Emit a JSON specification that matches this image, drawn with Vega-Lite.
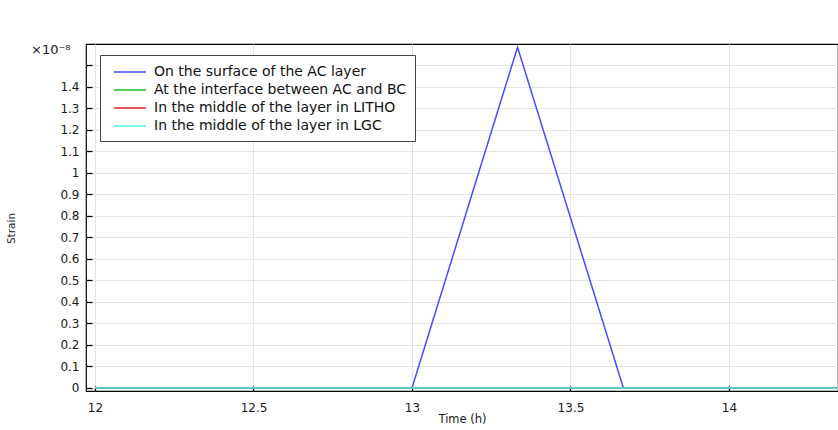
{
  "$schema": "https://vega.github.io/schema/vega-lite/v6.json",
  "width": 752,
  "height": 347,
  "autosize": {"type": "none"},
  "padding": {"left": 86, "top": 44, "right": 0, "bottom": 39},
  "background": "white",
  "title": {"text": "×10⁻⁸", "anchor": "start", "frame": "group", "dx": -55, "dy": 23, "offset": 0, "baseline": "alphabetic", "font": "DejaVu Sans", "fontSize": 13, "fontWeight": "normal", "color": "#222"},
  "config": {
    "view": {"stroke": "#000", "strokeWidth": 1.2},
    "font": "DejaVu Sans",
    "axis": {"domain": false, "gridColor": "#e4e4e4", "gridWidth": 1, "tickColor": "#000", "tickWidth": 1.3, "labelFont": "DejaVu Sans", "labelFontSize": 12, "labelColor": "#1a1a1a", "titleFont": "DejaVu Sans", "titleFontSize": 11.5, "titleFontWeight": "normal", "titleColor": "#1a1a1a"}
  },
  "data": {"values": [
    {"series": "On the surface of the AC layer", "t": 12, "strain": 0},
    {"series": "On the surface of the AC layer", "t": 13, "strain": 0},
    {"series": "On the surface of the AC layer", "t": 13.333, "strain": 1.585},
    {"series": "On the surface of the AC layer", "t": 13.667, "strain": 0},
    {"series": "On the surface of the AC layer", "t": 14.34, "strain": 0},
    {"series": "At the interface between AC and BC", "t": 12, "strain": 0},
    {"series": "At the interface between AC and BC", "t": 14.34, "strain": 0},
    {"series": "In the middle of the layer in LITHO", "t": 12, "strain": 0},
    {"series": "In the middle of the layer in LITHO", "t": 14.34, "strain": 0},
    {"series": "In the middle of the layer in LGC", "t": 12, "strain": 0},
    {"series": "In the middle of the layer in LGC", "t": 14.34, "strain": 0}
  ]},
  "mark": {"type": "line", "strokeWidth": 1.5, "clip": true},
  "encoding": {
    "x": {"field": "t", "type": "quantitative", "title": "Time (h)",
      "scale": {"domain": [11.9716, 14.344], "nice": false, "zero": false},
      "axis": {"values": [12, 12.5, 13, 13.5, 14], "format": "~g", "tickSize": -5, "labelPadding": 16, "titlePadding": 0}},
    "y": {"field": "strain", "type": "quantitative", "title": "Strain",
      "scale": {"domain": [-0.014, 1.6], "nice": false, "zero": false},
      "axis": {"values": [0, 0.1, 0.2, 0.3, 0.4, 0.5, 0.6, 0.7, 0.8, 0.9, 1, 1.1, 1.2, 1.3, 1.4, 1.5], "format": "~g", "labelExpr": "datum.value > 1.45 ? '' : datum.label", "tickSize": -6, "labelPadding": 13, "titleX": -70, "titleY": 184, "titleFontSize": 10.5}},
    "color": {"field": "series", "type": "nominal", "sort": null,
      "scale": {"domain": ["On the surface of the AC layer", "At the interface between AC and BC", "In the middle of the layer in LITHO", "In the middle of the layer in LGC"], "range": ["#4a4aff", "#22c022", "#dd2222", "#44f4f4"]},
      "legend": {"title": null, "orient": "none", "legendX": 14, "legendY": 11, "fillColor": "white", "strokeColor": "#444", "padding": 8, "symbolType": "M-2,0H2", "symbolSize": 256, "symbolOffset": 13, "symbolStrokeWidth": 1.5, "labelFont": "DejaVu Sans", "labelFontSize": 14, "labelOffset": 15, "labelColor": "#111", "rowPadding": 2, "labelLimit": 400}}
  }
}
